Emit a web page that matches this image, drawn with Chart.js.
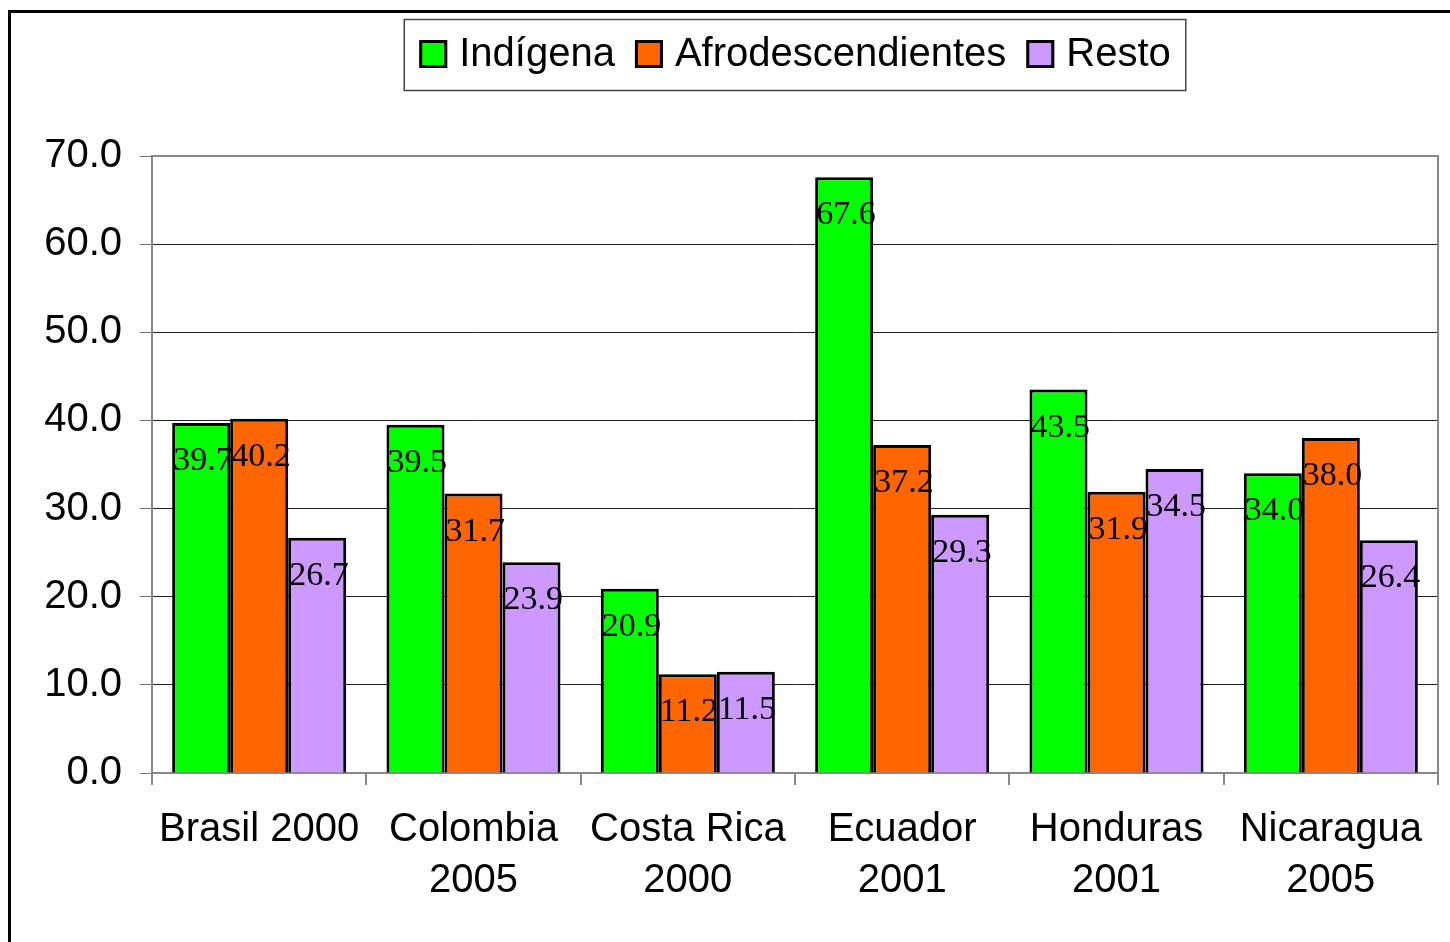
<!DOCTYPE html>
<html>
<head>
<meta charset="utf-8">
<script src="https://cdn.jsdelivr.net/npm/chart.js@4.4.0/dist/chart.umd.min.js"></script>
<style>
  body { margin: 0; background: #fff; }
  canvas { display: block; }
</style>
</head>
<body>
<canvas id="grafico" width="1450" height="942"></canvas>
<script>
var categorias = [
    "Brasil 2000",
    ["Colombia", "2005"],
    ["Costa Rica", "2000"],
    ["Ecuador", "2001"],
    ["Honduras", "2001"],
    ["Nicaragua", "2005"]
];
var indigena = [39.7, 39.5, 20.9, 67.6, 43.5, 34.0];
var afro = [40.2, 31.7, 11.2, 37.2, 31.9, 38.0];
var resto = [26.7, 23.9, 11.5, 29.3, 34.5, 26.4];
var ejeY = [0, 10, 20, 30, 40, 50, 60, 70];

var sans = "'Liberation Sans', Arial, sans-serif";
var serif = "'Liberation Serif', 'Times New Roman', serif";

// marco negro, borde del area y leyenda con recuadro
var marcoPlugin = {
    id: 'marco',
    beforeDraw: function (chart) {
        var ctx = chart.ctx;
        ctx.save();
        ctx.strokeStyle = '#000';
        ctx.lineWidth = 3;
        ctx.strokeRect(9.5, 11.5, 1600, 1100);
        ctx.restore();
    },
    afterDraw: function (chart) {
        var ctx = chart.ctx;
        var a = chart.chartArea;
        ctx.save();
        ctx.strokeStyle = '#888';
        ctx.lineWidth = 2;
        ctx.beginPath();
        ctx.moveTo(a.left, a.top);
        ctx.lineTo(a.right, a.top);
        ctx.lineTo(a.right, a.bottom);
        ctx.stroke();

        // leyenda
        ctx.font = '40px ' + sans;
        var items = chart.data.datasets.map(function (ds) {
            return { text: ds.label, color: ds.backgroundColor, w: ctx.measureText(ds.label).width };
        });
        var total = 0;
        items.forEach(function (it, i) {
            total += 28 + 12 + it.w + (i < items.length - 1 ? 20 : 0);
        });
        var boxW = total + 30;
        var cx = (a.left + a.right) / 2;
        var bx = cx - boxW / 2;
        ctx.strokeStyle = '#444';
        ctx.lineWidth = 1.5;
        ctx.strokeRect(bx, 19.5, boxW, 71);
        var x = bx + 15;
        ctx.textBaseline = 'middle';
        ctx.textAlign = 'left';
        items.forEach(function (it) {
            ctx.fillStyle = it.color;
            ctx.fillRect(x, 40, 28, 28);
            ctx.strokeStyle = '#000';
            ctx.lineWidth = 3;
            ctx.strokeRect(x + 1.5, 41.5, 25, 25);
            ctx.fillStyle = '#000';
            ctx.fillText(it.text, x + 40, 55);
            x += 28 + 12 + it.w + 20;
        });
        ctx.restore();
    }
};

// etiquetas de valores
var etiquetasPlugin = {
    id: 'etiquetas',
    afterDatasetsDraw: function (chart) {
        var ctx = chart.ctx;
        ctx.save();
        ctx.font = '34px ' + serif;
        ctx.fillStyle = '#000';
        ctx.textAlign = 'left';
        ctx.textBaseline = 'middle';
        chart.data.datasets.forEach(function (ds, i) {
            chart.getDatasetMeta(i).data.forEach(function (bar, j) {
                ctx.fillText(ds.data[j].toFixed(1), bar.x - bar.width / 2 + 1, bar.y + 38);
            });
        });
        ctx.restore();
    }
};

new Chart(document.getElementById('grafico'), {
    type: 'bar',
    data: {
        labels: categorias,
        datasets: [
            { label: 'Indígena', data: indigena, backgroundColor: '#00FF00' },
            { label: 'Afrodescendientes', data: afro, backgroundColor: '#FF6600' },
            { label: 'Resto', data: resto, backgroundColor: '#CC99FF' }
        ]
    },
    options: {
        responsive: false,
        animation: false,
        layout: { padding: { top: 156, right: 12, left: 0, bottom: 0 } },
        datasets: {
            bar: {
                borderColor: '#000',
                borderWidth: 3,
                categoryPercentage: 0.812,
                barPercentage: 1.0
            }
        },
        plugins: {
            legend: { display: false },
            tooltip: { enabled: false }
        },
        scales: {
            x: {
                afterFit: function (scale) { scale.height = 169; },
                grid: {
                    drawOnChartArea: false,
                    tickLength: 12,
                    color: '#888',
                    lineWidth: 2
                },
                border: { color: '#888', width: 2 },
                ticks: {
                    color: '#000',
                    padding: 19,
                    maxRotation: 0,
                    autoSkip: false,
                    font: { family: sans, size: 40, lineHeight: 1.275 }
                }
            },
            y: {
                min: ejeY[0],
                max: ejeY[ejeY.length - 1],
                afterFit: function (scale) { scale.width = 152; },
                afterBuildTicks: function (scale) {
                    scale.ticks = ejeY.map(function (v) { return { value: v }; });
                },
                grid: {
                    color: '#222',
                    tickColor: '#777',
                    tickLength: 12,
                    lineWidth: 1
                },
                border: { color: '#888', width: 2 },
                ticks: {
                    color: '#000',
                    padding: 18,
                    font: { family: sans, size: 40 },
                    callback: function (v) { return Number(v).toFixed(1); }
                }
            }
        }
    },
    plugins: [marcoPlugin, etiquetasPlugin]
});
</script>
</body>
</html>
